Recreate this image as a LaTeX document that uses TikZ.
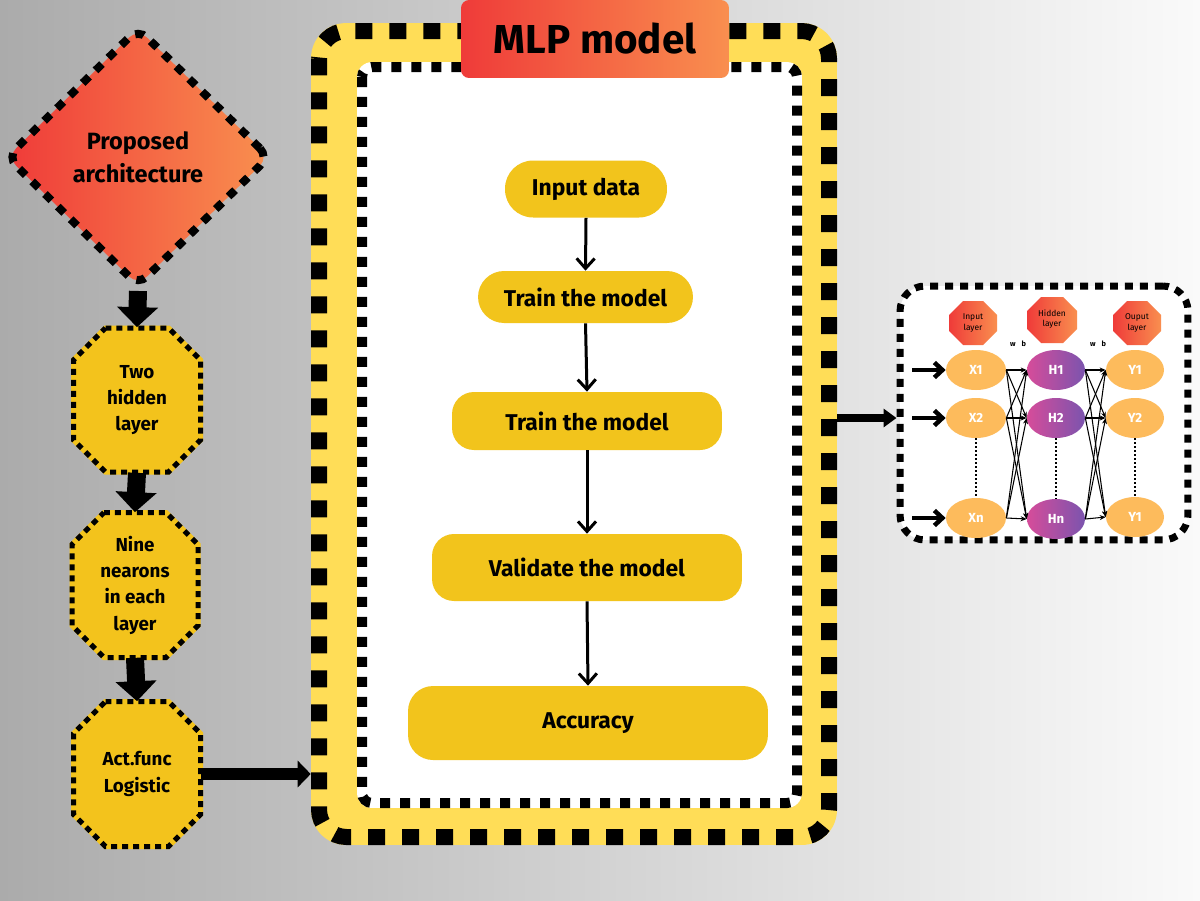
\documentclass[tikz,border=0pt]{standalone}
\usepackage{fontspec}
\setmainfont{Fira Sans}
\usetikzlibrary{shapes.geometric,arrows.meta}
\definecolor{bgL}{HTML}{ABABAB}
\definecolor{bgR}{HTML}{FAFAFA}
\definecolor{yband}{HTML}{FFDD57}
\definecolor{flowY}{HTML}{F2C41C}
\definecolor{octY}{HTML}{F3C31C}
\definecolor{redA}{HTML}{EF3B39}
\definecolor{orangeA}{HTML}{F98F4F}
\definecolor{ellO}{HTML}{FDBB5C}
\definecolor{hidA}{HTML}{D64C9A}
\definecolor{hidB}{HTML}{7B54AE}
% octagon outline: style, cx, cy, w, h, chamfer (all in px units)
\newcommand{\octa}[6]{%
  \path[#1] (#2-#4/2+#6,#3-#5/2) -- (#2+#4/2-#6,#3-#5/2) -- (#2+#4/2,#3-#5/2+#6) -- (#2+#4/2,#3+#5/2-#6)
    -- (#2+#4/2-#6,#3+#5/2) -- (#2-#4/2+#6,#3+#5/2) -- (#2-#4/2,#3+#5/2-#6) -- (#2-#4/2,#3-#5/2+#6) -- cycle;}
\begin{document}
\begin{tikzpicture}[x=0.02cm,y=-0.02cm,
  flowbox/.style={fill=flowY, inner sep=0pt, font=\bfseries\fontsize{13}{15}\selectfont},
  octline/.style={fill=octY, draw=black, line width=0.1cm, dash pattern=on 0.12cm off 0.1cm,
    preaction={draw=octY, solid, line width=0.1cm}},
  octtext/.style={minimum width=2.54cm, minimum height=2.9cm, inner sep=0pt, align=center,
    font=\bfseries\fontsize{10.7}{15}\selectfont},
  bigarrow/.style={draw=black, line width=0.36cm, -{Triangle[width=0.8cm,length=0.4cm]}},
  flowarrow/.style={draw=black, line width=0.06cm, -{Straight Barb[width=0.36cm,length=0.2cm]}},
  layerfill/.style={left color=redA, right color=orangeA},
  layerlab/.style={minimum width=0.96cm, minimum height=0.88cm, inner sep=0pt, align=center,
    font=\fontsize{4.8}{6}\selectfont},
  neuron/.style={ellipse, minimum width=1.2cm, minimum height=0.8cm, inner sep=0pt, fill=ellO, text=white,
    font=\bfseries\fontsize{7.5}{9}\selectfont},
  hneuron/.style={neuron, fill=none, left color=hidA, right color=hidB, minimum width=1.16cm},
  link/.style={draw=black, line width=0.6pt, -{Stealth[length=0.12cm,width=0.1cm]}},
  inarrow/.style={draw=black, line width=0.09cm, -{Straight Barb[width=0.3cm,length=0.16cm]}},
  dots/.style={draw=black, line width=0.04cm, dash pattern=on 0.04cm off 0.04cm}]
\useasboundingbox (0,0) rectangle (1200,900);
\shade[left color=bgL, right color=bgR] (0,0) rectangle (1200,900);

% main frame
\node[fill=yband, rounded corners=0.7cm, minimum width=10.52cm, minimum height=16.44cm, inner sep=0pt] (frame) at (574,434) {};
\draw[black, line width=0.32cm, dash pattern=on 0.34cm off 0.34cm, rounded corners=0.55cm] (319,31) rectangle (829,837);
\node[fill=white, rounded corners=0.3cm, minimum width=8.9cm, minimum height=14.92cm, inner sep=0pt] (inner) at (579.5,435) {};
\draw[black, line width=0.2cm, dash pattern=on 0.2cm off 0.2cm, rounded corners=0.2cm] (362,67) rectangle (797,803);

% title
\node[left color=redA, right color=orangeA, rounded corners=0.16cm, minimum width=5.36cm, minimum height=1.56cm,
  inner sep=0pt, font=\bfseries\fontsize{23}{27}\selectfont] (title) at (595,39) {MLP model};

% flow boxes
\node[flowbox, rounded corners=0.56cm, minimum width=3.24cm, minimum height=1.14cm] (f1) at (586,189) {Input data};
\node[flowbox, rounded corners=0.52cm, minimum width=4.3cm, minimum height=1.04cm] (f2) at (585.5,297) {Train the model};
\node[flowbox, rounded corners=0.44cm, minimum width=5.4cm, minimum height=1.16cm] (f3) at (587,421) {Train the model};
\node[flowbox, rounded corners=0.44cm, minimum width=6.2cm, minimum height=1.34cm] (f4) at (587,567.5) {Validate the model};
\node[flowbox, rounded corners=0.5cm, minimum width=7.2cm, minimum height=1.48cm] (f5) at (588,723) {Accuracy};
\draw[flowarrow] (f1.south) -- (f2.north);
\draw[flowarrow] (f2.south) -- (f3.north);
\draw[flowarrow] (f3.south) -- (f4.north);
\draw[flowarrow] (f4.south) -- (f5.north);

% left column
\node[diamond, minimum width=5.3cm, minimum height=5.2cm, rounded corners=0.25cm, left color=redA, right color=orangeA,
  draw=black, line width=0.16cm, dash pattern=on 0.18cm off 0.18cm, inner sep=0pt, align=center,
  font=\bfseries\fontsize{13.4}{18.8}\selectfont] (prop) at (138,157) {Proposed\\architecture};
\octa{octline}{137}{400}{127}{144}{32}
\node[octtext] (o1) at (137,400) {Two\\hidden\\layer};
\octa{octline}{135}{585}{126}{145}{32}
\node[octtext] (o2) at (135,585) {Nine\\nearons\\in each\\layer};
\octa{octline}{137}{774}{127}{145}{32}
\node[octtext] (o3) at (137,774) {Act.func\\Logistic};
\draw[bigarrow] (prop.south) -- (o1.north);
\draw[bigarrow] (o1.south) -- (o2.north);
\draw[bigarrow] (o2.south) -- (o3.north);
\draw[draw=black, line width=0.25cm, -{Triangle[width=0.52cm,length=0.26cm]}] (o3.east) -- (o3.east -| frame.west);

% network box
\node[fill=white, draw=black, line width=0.14cm, dash pattern=on 0.16cm off 0.14cm, rounded corners=0.5cm,
  minimum width=5.76cm, minimum height=5.08cm, inner sep=0pt] (net) at (1044,413) {};

\octa{layerfill}{973}{323}{48}{44}{14}
\node[layerlab] (inL) at (973,323) {Input\\layer};
\octa{layerfill}{1052}{320}{50}{46}{14}
\node[layerlab] (hidL) at (1052,319) {Hidden\\layer};
\octa{layerfill}{1137}{323}{48}{44}{14}
\node[layerlab] (outL) at (1137,323) {Ouput\\layer};
\node[font=\bfseries\fontsize{4.2}{5}\selectfont] (wb1) at (1018,344) {w\hspace{0.8em}b};
\node[font=\bfseries\fontsize{4.2}{5}\selectfont] (wb2) at (1098,344) {w\hspace{0.8em}b};

\node[neuron] (x1) at (976,370) {X1};
\node[neuron] (x2) at (976,418) {X2};
\node[neuron] (xn) at (976,518) {Xn};
\node[hneuron] (h1) at (1056,370) {H1};
\node[hneuron] (h2) at (1056,418) {H2};
\node[hneuron] (hn) at (1056,519) {Hn};
\node[neuron, minimum width=1.16cm] (y1) at (1135,370) {Y1};
\node[neuron, minimum width=1.16cm] (y2) at (1135,418) {Y2};
\node[neuron, minimum width=1.16cm] (yn) at (1135,517) {Y1};

\draw[dots] (x2.south) -- (xn.north);
\draw[dots] (h2.south) -- (hn.north);
\draw[dots] (y2.south) -- (yn.north);

\foreach \a in {x1,x2,xn}{\foreach \b in {h1,h2,hn}{\draw[link] (\a.east) -- (\b.west);}}
\foreach \a in {h1,h2,hn}{\foreach \b in {y1,y2,yn}{\draw[link] (\a.east) -- (\b.west);}}

\coordinate (i1) at (912,370);
\coordinate (i2) at (912,418);
\coordinate (i3) at (912,518);
\draw[inarrow] (i1) -- (x1.west);
\draw[inarrow] (i2) -- (x2.west);
\draw[inarrow] (i3) -- (xn.west);

\draw[draw=black, line width=0.15cm, -{Triangle[width=0.36cm,length=0.26cm]}] (frame.east |- x2) -- (net.west |- x2);
\end{tikzpicture}
\end{document}
